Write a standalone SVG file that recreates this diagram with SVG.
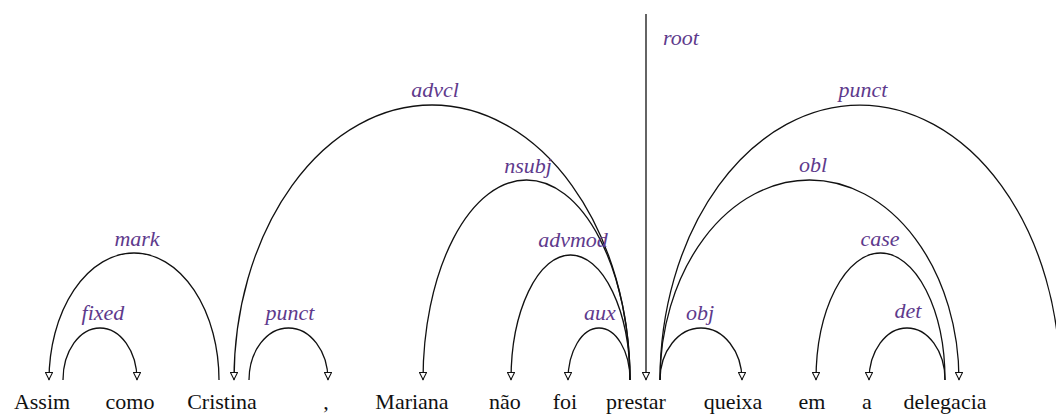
<svg xmlns="http://www.w3.org/2000/svg" width="1056" height="414" viewBox="0 0 1056 414">
<style>
.w{font-size:22px;fill:#111;text-anchor:middle}
.l{font-size:22px;font-style:italic;fill:#5e3a8c;text-anchor:middle}
.a{fill:none;stroke:#111;stroke-width:1.3}
.h{marker-end:url(#arr)}
</style>
<defs>
<marker id="arr" markerUnits="userSpaceOnUse" viewBox="0 0 10 10" refX="10" refY="5" markerWidth="9" markerHeight="8" orient="auto">
<path d="M0.6,0.6 L9.4,5 L0.6,9.4 z" fill="#fff" stroke="#111" stroke-width="1.3"/>
</marker>
</defs>
<rect width="1056" height="414" fill="#fff"/>
<g id="nodes" font-family="Liberation Serif, Times New Roman, Times, Nimbus Roman, DejaVu Serif, serif">
<g id="w1"><text class="w" x="42" y="409">Assim</text></g>
<g id="w2"><text class="w" x="130" y="409">como</text></g>
<g id="w3"><text class="w" x="222" y="409">Cristina</text></g>
<g id="w4"><text class="w" x="326" y="409">,</text></g>
<g id="w5"><text class="w" x="412" y="409">Mariana</text></g>
<g id="w6"><text class="w" x="505" y="409">não</text></g>
<g id="w7"><text class="w" x="565" y="409">foi</text></g>
<g id="w8"><text class="w" x="636" y="409">prestar</text></g>
<g id="w9"><text class="w" x="733" y="409">queixa</text></g>
<g id="w10"><text class="w" x="812" y="409">em</text></g>
<g id="w11"><text class="w" x="867" y="409">a</text></g>
<g id="w12"><text class="w" x="945" y="409">delegacia</text></g>
</g>
<g id="connectors" font-family="Liberation Serif, Times New Roman, Times, Nimbus Roman, DejaVu Serif, serif">
<g id="e-fixed"><path class="a h" d="M63,380 A37,52 0 0 1 137,380"/><text class="l" x="103" y="320">fixed</text></g>
<g id="e-mark"><path class="a h" d="M219,380 A85,127 0 0 0 49,380"/><text class="l" x="137" y="246">mark</text></g>
<g id="e-punct1"><path class="a h" d="M249,380 A39.5,52 0 0 1 328,380"/><text class="l" x="290" y="320">punct</text></g>
<g id="e-advcl"><path class="a h" d="M630,380 A198,275 0 0 0 234,380"/><text class="l" x="435" y="97">advcl</text></g>
<g id="e-nsubj"><path class="a h" d="M630,380 A103.5,200 0 0 0 423,380"/><text class="l" x="528" y="173">nsubj</text></g>
<g id="e-advmod"><path class="a h" d="M630,380 A59.5,125 0 0 0 511,380"/><text class="l" x="573" y="247">advmod</text></g>
<g id="e-aux"><path class="a h" d="M630,380 A31,52 0 0 0 568,380"/><text class="l" x="600" y="320">aux</text></g>
<g id="e-root"><path class="a h" d="M646,14 L646,380"/><text class="l" x="663" y="45" style="text-anchor:start">root</text></g>
<g id="e-obj"><path class="a h" d="M660,380 A41,52 0 0 1 742,380"/><text class="l" x="700" y="320">obj</text></g>
<g id="e-obl"><path class="a h" d="M660,380 A149.5,200 0 0 1 959,380"/><text class="l" x="813" y="172">obl</text></g>
<g id="e-punct2"><path class="a h" d="M660,380 A200,275 0 0 1 1060,380"/><text class="l" x="863" y="97">punct</text></g>
<g id="e-case"><path class="a h" d="M945,380 A64.5,127 0 0 0 816,380"/><text class="l" x="880" y="246">case</text></g>
<g id="e-det"><path class="a h" d="M945,380 A38,52 0 0 0 869,380"/><text class="l" x="908" y="318">det</text></g>
</g>
</svg>
